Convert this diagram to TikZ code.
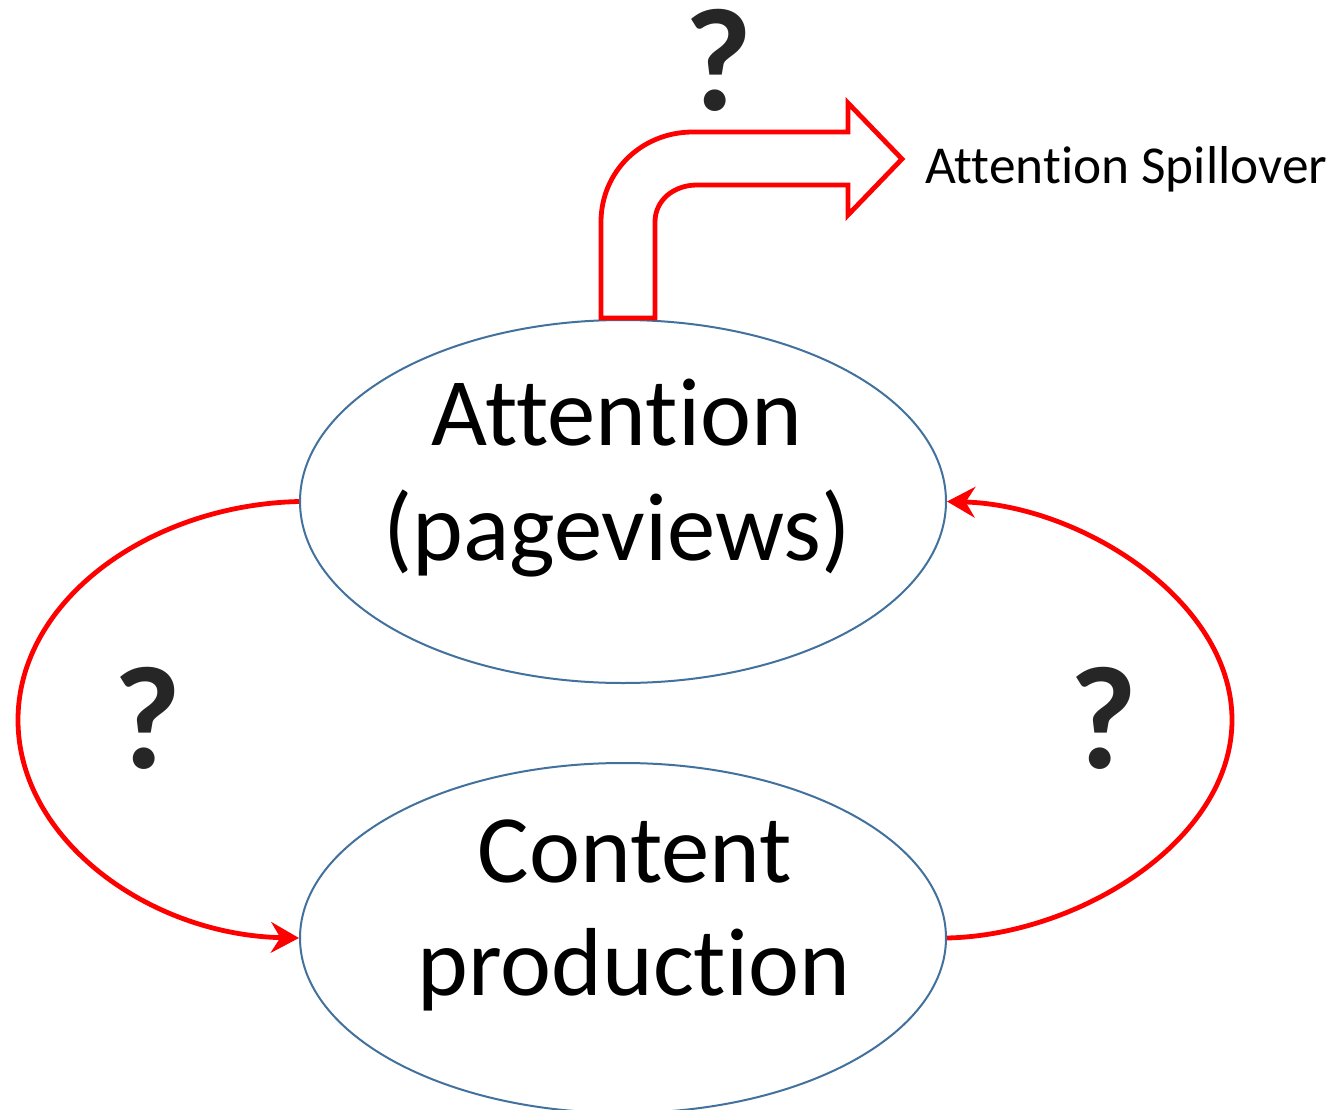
\documentclass[tikz,border=0pt]{standalone}
\usepackage{fontspec}
\setmainfont{Carlito}[Ligatures={NoCommon,NoRare,NoContextual}]
\usetikzlibrary{arrows.meta,shapes.geometric}
\definecolor{ringblue}{HTML}{41719C}
\definecolor{loopred}{HTML}{FF0000}
\definecolor{qgray}{HTML}{262626}
\tikzset{
  ring/.style={ellipse, draw=ringblue, line width=1.5pt, inner sep=0pt},
  bigtext/.style={anchor=base, inner sep=0pt, font=\fontsize{72.5}{87}\selectfont},
  smalltext/.style={anchor=base west, inner sep=0pt, font=\fontsize{40}{48}\selectfont},
  qmark/.style={anchor=base, inner sep=0pt, text=qgray, font=\fontsize{110}{130}\selectfont\bfseries},
  loop/.style={draw=loopred, line width=3.6pt, -{Stealth[length=21pt, width=23pt, inset=7pt]}},
  bentarrow/.style={draw=loopred, line width=3.6pt, fill=white, miter limit=10}
}
\begin{document}
\begin{tikzpicture}[x=0.75pt, y=-0.75pt]
  \useasboundingbox (0,0) rectangle (1332,1110);

  % the two states
  \node[ring, minimum width=484.5pt, minimum height=272.25pt] (att) at (623,501.5) {};
  \node[ring, minimum width=484.5pt, minimum height=262.5pt] (cont) at (623,938) {};

  \node[bigtext] (attA) at (617,445) {Attention};
  \node[bigtext] (attB) at (617,560) {(pageviews)};
  \node[bigtext] (contA) at (635,882) {Content};
  \node[bigtext] (contB) at (634,995) {production};

  % feedback loops
  \coordinate (lbulge) at (18,720);
  \coordinate (rbulge) at (1232,720);
  \draw[loop] (att.west) .. controls (150,505) and (18,600) .. (lbulge)
              .. controls (18,840) and (150,935) .. (cont.west);
  \draw[loop] (cont.east) .. controls (1080,935) and (1232,840) .. (rbulge)
              .. controls (1232,600) and (1080,505) .. (att.east);

  % spillover arrow leaving the attention state
  \draw[bentarrow] (601,318) -- (601,222)
      .. controls (601,172) and (641,132) .. (693,132)
      -- (848,132) -- (848,103) -- (902,159) -- (848,215) -- (848,185)
      -- (697,185) .. controls (674,185) and (655,200) .. (655,222)
      -- (655,318) -- cycle;
  \node[smalltext] (spill) at (925,183) {Attention Spillover};

  % open questions
  \node[qmark] (q1) at (718,110) {?};
  \node[qmark] (q2) at (147,768) {?};
  \node[qmark] (q3) at (1103,768) {?};
\end{tikzpicture}
\end{document}
